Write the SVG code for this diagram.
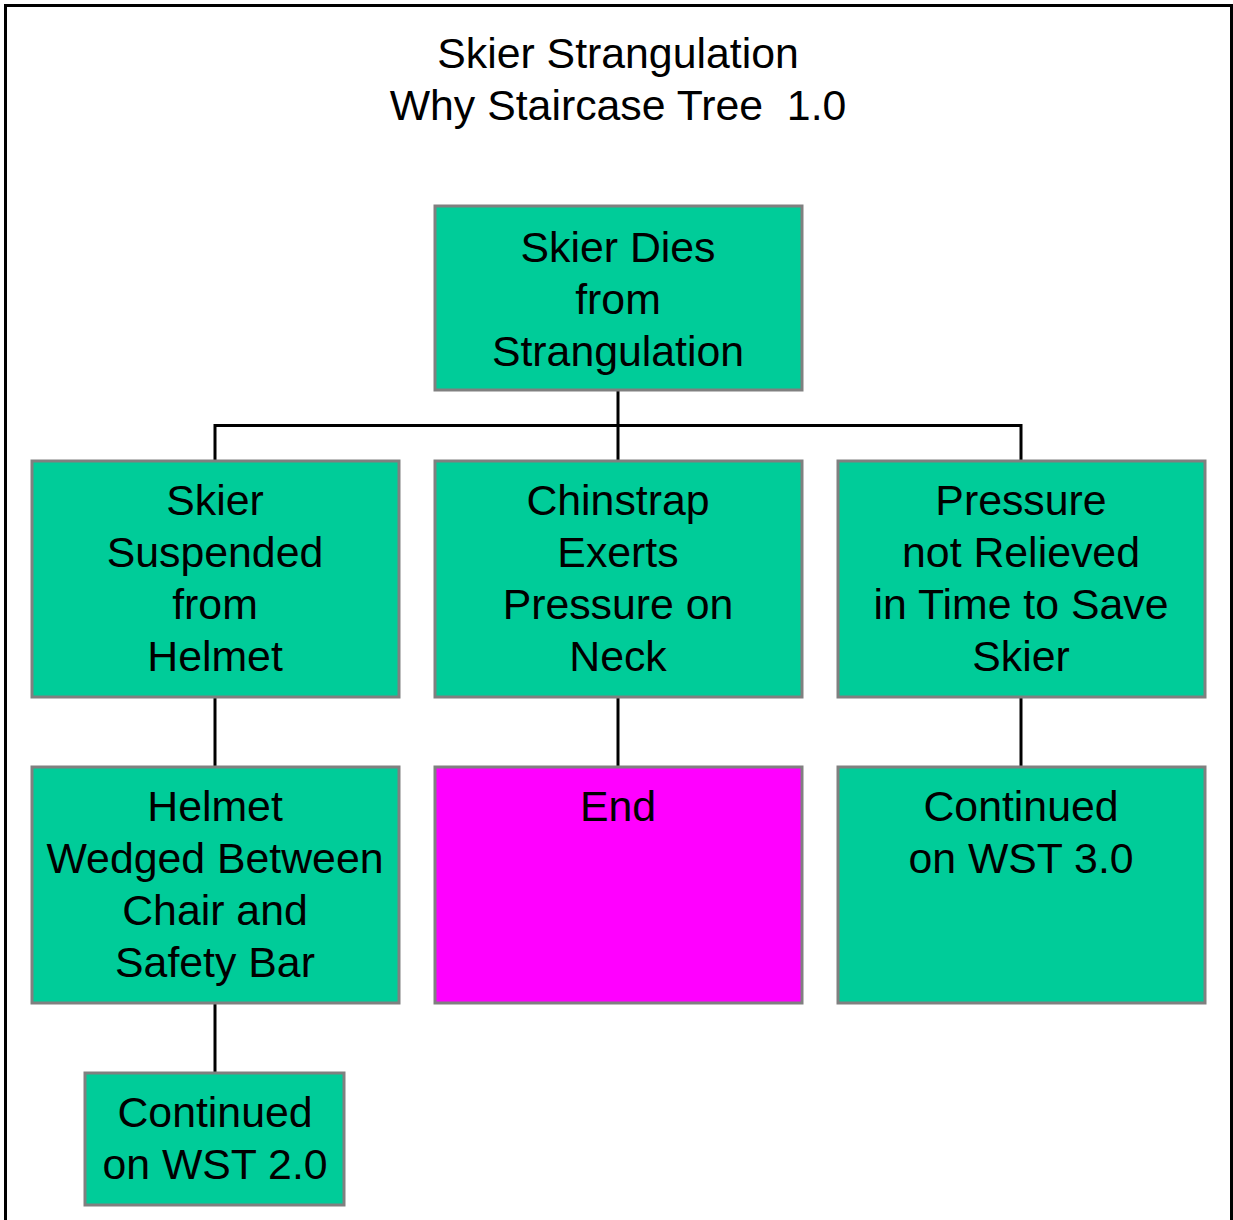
<svg xmlns="http://www.w3.org/2000/svg" width="1233" height="1220" viewBox="0 0 1233 1220">
<style>
.box{fill:#00CC99;stroke:#808080;stroke-width:3}
.end{fill:#FF00FF;stroke:#808080;stroke-width:3}
text{font-family:"Liberation Sans",Arial,sans-serif;font-size:42.8px;fill:#000;text-anchor:middle}
.title{white-space:pre}
.conn{stroke:#000;stroke-width:3;fill:none}
</style>
<rect x="0" y="0" width="1233" height="1220" fill="#fff"/>
<path d="M5.5 1225 V5.5 H1231.5 V1225" fill="none" stroke="#000" stroke-width="3"/>
<g id="title">
<text x="618" y="68">Skier Strangulation</text>
<text class="title" x="618" y="120" xml:space="preserve">Why Staircase Tree  1.0</text>
</g>
<g id="connectors">
<path class="conn" d="M618 390 V461"/>
<path class="conn" d="M215 461 V425.5 H1021 V461"/>
<path class="conn" d="M215 697 V767"/>
<path class="conn" d="M618 697 V767"/>
<path class="conn" d="M1021 697 V767"/>
<path class="conn" d="M215 1003 V1073"/>
</g>
<g id="n1">
<rect class="box" x="435" y="206" width="367" height="184"/>
<text x="618" y="262">Skier Dies</text>
<text x="618" y="314">from</text>
<text x="618" y="366">Strangulation</text>
</g>
<g id="n2">
<rect class="box" x="32" y="461" width="367" height="236"/>
<text x="215" y="515">Skier</text>
<text x="215" y="567">Suspended</text>
<text x="215" y="619">from</text>
<text x="215" y="671">Helmet</text>
</g>
<g id="n3">
<rect class="box" x="435" y="461" width="367" height="236"/>
<text x="618" y="515">Chinstrap</text>
<text x="618" y="567">Exerts</text>
<text x="618" y="619">Pressure on</text>
<text x="618" y="671">Neck</text>
</g>
<g id="n4">
<rect class="box" x="838" y="461" width="367" height="236"/>
<text x="1021" y="515">Pressure</text>
<text x="1021" y="567">not Relieved</text>
<text x="1021" y="619">in Time to Save</text>
<text x="1021" y="671">Skier</text>
</g>
<g id="n5">
<rect class="box" x="32" y="767" width="367" height="236"/>
<text x="215" y="821">Helmet</text>
<text x="215" y="873">Wedged Between</text>
<text x="215" y="925">Chair and</text>
<text x="215" y="977">Safety Bar</text>
</g>
<g id="n6">
<rect class="end" x="435" y="767" width="367" height="236"/>
<text x="618" y="821">End</text>
</g>
<g id="n7">
<rect class="box" x="838" y="767" width="367" height="236"/>
<text x="1021" y="821">Continued</text>
<text x="1021" y="873">on WST 3.0</text>
</g>
<g id="n8">
<rect class="box" x="85" y="1073" width="259" height="132"/>
<text x="215" y="1127">Continued</text>
<text x="215" y="1179">on WST 2.0</text>
</g>
</svg>
